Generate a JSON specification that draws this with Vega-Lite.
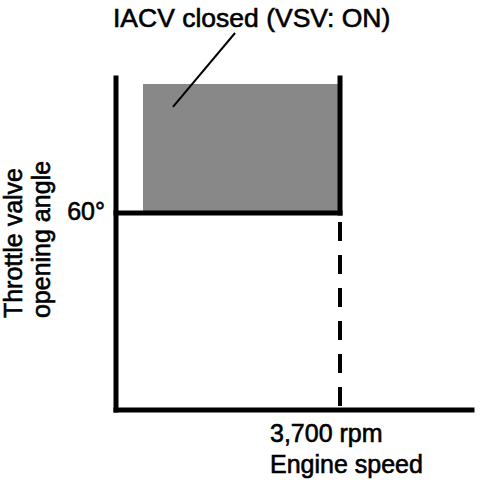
{
  "$schema": "https://vega.github.io/schema/vega-lite/v6.json",
  "width": 356,
  "height": 332,
  "autosize": {"type": "none"},
  "padding": {"left": 116, "top": 78, "right": 24, "bottom": 70},
  "background": "white",
  "config": {"view": {"stroke": null}},
  "datasets": {
    "zone": [{"x": 446, "x2": 3700, "y": 60, "y2": 99.3}],
    "solid": [
      {"part": "y axis", "x": 0, "x2": 0, "y": 0, "y2": 101.1},
      {"part": "x axis", "x": 0, "x2": 5880, "y": 0, "y2": 0},
      {"part": "60 deg", "x": 0, "x2": 3700, "y": 60, "y2": 60},
      {"part": "upper limit", "x": 3700, "x2": 3700, "y": 60, "y2": 101.1}
    ],
    "dashed": [{"x": 3700, "x2": 3700, "y": 60, "y2": 0}],
    "leader": [{"x": 1966, "x2": 941, "y": 114.8, "y2": 92.3}],
    "title": [{"x": -50, "y": 116.6, "label": "IACV closed (VSV: ON)"}],
    "leftlabels": [{"x": -182, "y": 57.9, "label": "60°"}],
    "bottomlabels": [
      {"x": 2544, "y": -9.75, "label": "3,700 rpm"},
      {"x": 2544, "y": -19.2, "label": "Engine speed"}
    ],
    "ytitle": [
      {"x": -1553, "y": 28.0, "label": "Throttle valve"},
      {"x": -1090, "y": 28.0, "label": "opening angle"}
    ]
  },
  "encoding": {
    "x": {"field": "x", "type": "quantitative", "scale": {"domain": [0, 5880], "nice": false, "zero": false}, "axis": null},
    "y": {"field": "y", "type": "quantitative", "scale": {"domain": [0, 101.1], "nice": false, "zero": false}, "axis": null}
  },
  "layer": [
    {
      "data": {"name": "zone"},
      "mark": {"type": "rect", "fill": "#888888"},
      "encoding": {"x2": {"field": "x2"}, "y2": {"field": "y2"}}
    },
    {
      "data": {"name": "solid"},
      "mark": {"type": "rule", "color": "black", "strokeWidth": 5, "strokeCap": "square"},
      "encoding": {"x2": {"field": "x2"}, "y2": {"field": "y2"}}
    },
    {
      "data": {"name": "dashed"},
      "mark": {"type": "rule", "color": "black", "strokeWidth": 4, "strokeDash": [19, 14], "strokeDashOffset": 24},
      "encoding": {"x2": {"field": "x2"}, "y2": {"field": "y2"}}
    },
    {
      "data": {"name": "leader"},
      "mark": {"type": "rule", "color": "black", "strokeWidth": 2},
      "encoding": {"x2": {"field": "x2"}, "y2": {"field": "y2"}}
    },
    {
      "data": {"name": "title"},
      "mark": {"type": "text", "font": "Liberation Sans", "fontSize": 26.5, "align": "left", "baseline": "alphabetic", "color": "black", "stroke": "black", "strokeWidth": 0.6},
      "encoding": {"text": {"field": "label"}}
    },
    {
      "data": {"name": "leftlabels"},
      "mark": {"type": "text", "font": "Liberation Sans", "fontSize": 25, "align": "right", "baseline": "alphabetic", "color": "black", "stroke": "black", "strokeWidth": 0.6},
      "encoding": {"text": {"field": "label"}}
    },
    {
      "data": {"name": "bottomlabels"},
      "mark": {"type": "text", "font": "Liberation Sans", "fontSize": 25, "align": "left", "baseline": "alphabetic", "color": "black", "stroke": "black", "strokeWidth": 0.6},
      "encoding": {"text": {"field": "label"}}
    },
    {
      "data": {"name": "ytitle"},
      "mark": {"type": "text", "font": "Liberation Sans", "fontSize": 25, "align": "left", "baseline": "alphabetic", "angle": 270, "color": "black", "stroke": "black", "strokeWidth": 0.6},
      "encoding": {"text": {"field": "label"}}
    }
  ]
}
